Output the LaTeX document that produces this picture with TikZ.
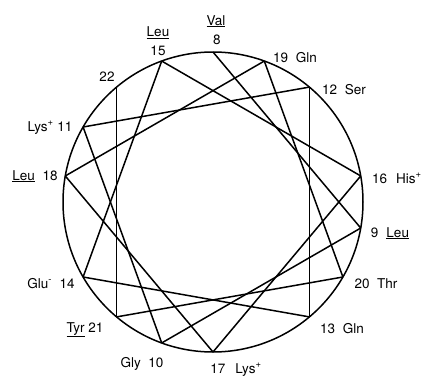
\documentclass[tikz,border=0pt]{standalone}
\usepackage{fontspec}
\setmainfont{TeX Gyre Heros}
\usetikzlibrary{positioning}

\begin{document}
\begin{tikzpicture}[x=1pt,y=1pt,line width=1.5pt,
  every node/.style={font=\fontsize{13.5}{15}\selectfont,inner sep=0pt,anchor=base}]
\useasboundingbox (0,0) rectangle (429,376);
\coordinate (c) at (213,174);
\draw (c) circle (150);
\foreach \n in {8,...,22}
  \path (c) ++({90-100*(\n-8)}:150) coordinate (v\n);
\foreach \n [evaluate=\n as \m using int(\n+1)] in {8,...,21}
  \draw (v\n) -- (v\m);
\node (val) at (216,351) {\underline{Val}};
\node (l8) at (217,331) {8};
\node (leu15) at (158,339) {\underline{Leu}};
\node (l15) at (158,321) {15};
\node (l19) at (295,314) {19~~Gln};
\node (l22) at (107,295) {22};
\node (l12) at (344,282) {12~~Ser};
\node (l11) at (50,245) {Lys\textsuperscript{+}~11};
\node (l18) at (35,196) {\underline{Leu}~~18};
\node (l16) at (397,193) {16\hspace{9pt}His\textsuperscript{+}};
\node (l9) at (390,139) {9\hspace{8pt}\underline{Leu}};
\node (l14) at (51,88) {Glu\textsuperscript{-}~~14};
\node (l20) at (376,88) {20~~Thr};
\node (l21) at (85,44) {\underline{Tyr}~21};
\node (l13) at (342,43) {13~~Gln};
\node (l10) at (142,9) {Gly~~10};
\node (l17) at (236,3) {17\hspace{10pt}Lys\textsuperscript{+}};
\end{tikzpicture}
\end{document}
